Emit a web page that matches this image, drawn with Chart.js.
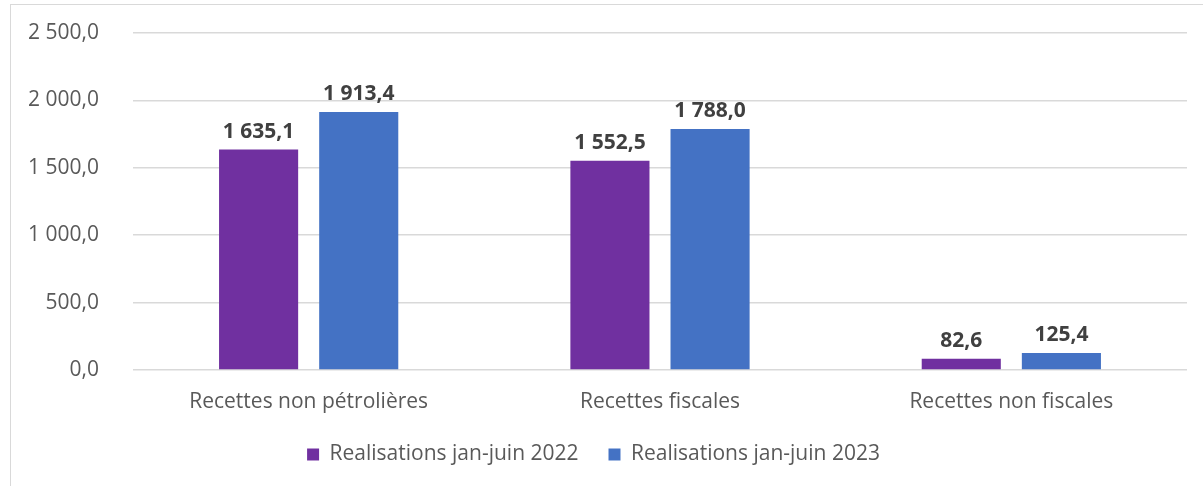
<!DOCTYPE html>
<html>
<head>
<meta charset="utf-8">
<script src="https://cdn.jsdelivr.net/npm/chart.js@4.4.0/dist/chart.umd.min.js"></script>
<style>
    html, body { margin: 0; padding: 0; background: #fff; }
    #frame {
        position: absolute; left: 10px; top: 4px; width: 1200px; height: 490px;
        border: 1px solid #d9d9d9; box-sizing: border-box;
    }
    #wrap { position: absolute; left: 0; top: 0; width: 1203px; height: 486px; }
</style>
</head>
<body>
<div id="frame"></div>
<div id="wrap"><canvas id="chart" width="1203" height="486"></canvas></div>
<script>
// data
const categories = ["Recettes non pétrolières", "Recettes fiscales", "Recettes non fiscales"];
const series_names = ["Realisations jan-juin 2022", "Realisations jan-juin 2023"];
const values_2022 = [1635.1, 1552.5, 82.6];
const values_2023 = [1913.4, 1788.0, 125.4];
const y_ticks = [0, 500, 1000, 1500, 2000, 2500];

const font_family = "'Open Sans', sans-serif";

/**
 * Format a number the french way: "1 635,1".
 */
function fr_number(v) {
    let parts = Number(v).toFixed(1).split(".");
    let int_part = parts[0].replace(/\B(?=(\d{3})+(?!\d))/g, " ");
    return int_part + "," + parts[1];
}

// draw the value above each bar
const bar_labels = {
    id: "bar_labels",
    afterDatasetsDraw(chart) {
        let ctx = chart.ctx;
        ctx.save();
        ctx.font = `bold 21px ${font_family}`;
        ctx.fillStyle = "#404040";
        ctx.textAlign = "center";
        ctx.textBaseline = "alphabetic";
        chart.data.datasets.forEach((ds, i) => {
            chart.getDatasetMeta(i).data.forEach((bar, j) => {
                ctx.fillText(fr_number(ds.data[j]), bar.x, bar.y - 12);
            });
        });
        ctx.restore();
    }
};

new Chart(document.querySelector("#chart"), {
    type: "bar",
    data: {
        labels: categories,
        datasets: [{
            label: series_names[0],
            data: values_2022,
            backgroundColor: "#7030a0"
        }, {
            label: series_names[1],
            data: values_2023,
            backgroundColor: "#4472c4"
        }]
    },
    options: {
        responsive: false,
        animation: false,
        categoryPercentage: 0.57,
        barPercentage: 0.79,
        layout: { padding: { top: 33, right: 16, bottom: 11, left: 0 } },
        plugins: {
            tooltip: { enabled: false },
            legend: {
                position: "bottom",
                labels: {
                    boxWidth: 12,
                    boxHeight: 12,
                    padding: 30,
                    color: "#595959",
                    font: { family: font_family, size: 21 }
                }
            }
        },
        scales: {
            x: {
                afterFit: (scale) => { scale.height = 44; },
                grid: { display: false, drawTicks: false },
                border: { display: false },
                ticks: {
                    padding: 19,
                    color: "#595959",
                    font: { family: font_family, size: 21 }
                }
            },
            y: {
                min: 0,
                max: 2500,
                afterFit: (scale) => { scale.width = 133; },
                afterBuildTicks: (scale) => { scale.ticks = y_ticks.map((v) => ({ value: v })); },
                grid: { color: "#d9d9d9", lineWidth: 1.5, tickLength: 34, tickColor: "rgba(0,0,0,0)" },
                border: { display: false },
                ticks: {
                    padding: 0,
                    color: "#595959",
                    font: { family: font_family, size: 21 },
                    callback: (v) => fr_number(v)
                }
            }
        }
    },
    plugins: [bar_labels]
});
</script>
</body>
</html>
